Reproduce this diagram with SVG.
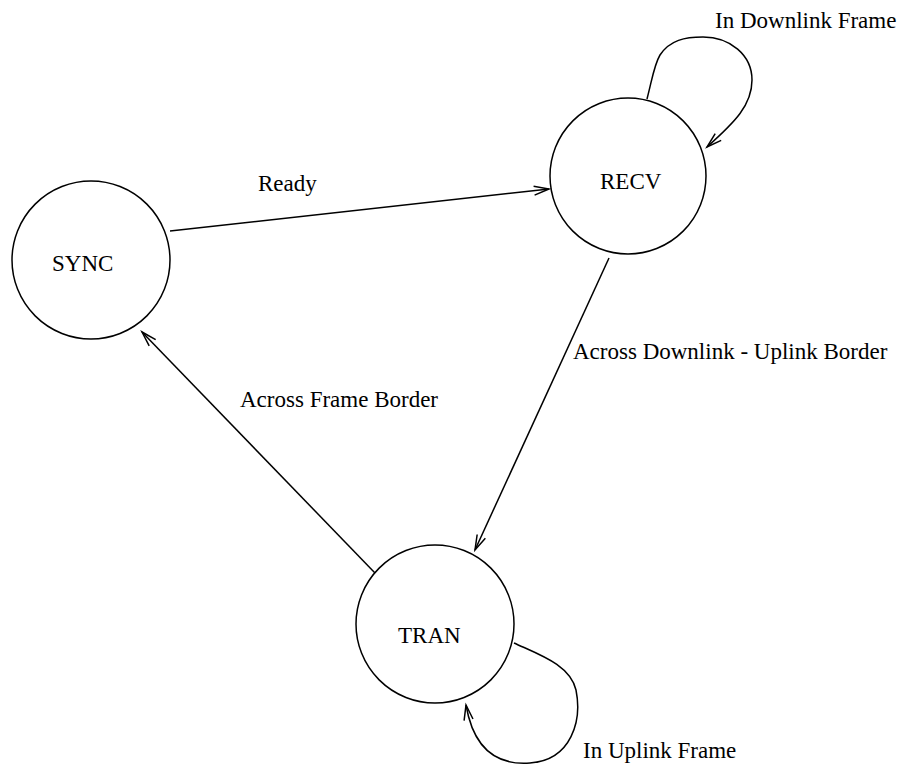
<svg xmlns="http://www.w3.org/2000/svg" width="905" height="771" viewBox="0 0 905 771">
<style>
.n{fill:none;stroke:#000;stroke-width:1.5}
.c{fill:none;stroke:#000;stroke-width:1.5}
text{font-family:"Liberation Serif","Times New Roman",serif;font-size:23px;fill:#000}
</style>
<defs>
<marker id="a" markerUnits="userSpaceOnUse" markerWidth="20" markerHeight="12" viewBox="-16 -6 18 12" refX="0" refY="0" orient="auto">
<path d="M-15,-4.5 L0,0 L-15,4.5" fill="none" stroke="#000" stroke-width="1.5"/>
</marker>
</defs>
<rect width="905" height="771" fill="#fff"/>
<g id="SYNC"><circle class="n" cx="91" cy="260" r="79"/><text x="52" y="271">SYNC</text></g>
<g id="RECV"><circle class="n" cx="628" cy="176" r="78"/><text x="600" y="189">RECV</text></g>
<g id="TRAN"><circle class="n" cx="435" cy="624" r="79"/><text x="398" y="643">TRAN</text></g>
<g id="connectors">
<line class="c" x1="170" y1="231" x2="549" y2="189" marker-end="url(#a)"/>
<line class="c" x1="609" y1="258" x2="475" y2="550" marker-end="url(#a)"/>
<line class="c" x1="375" y1="573" x2="142" y2="332" marker-end="url(#a)"/>
<path class="c" d="M647,99 C652,80 654,65 660,55 C670,40 685,37 703,37 C730,37 752,55 752,80 C752,105 735,122 707,147" marker-end="url(#a)"/>
<path class="c" d="M514,643 C540,655 570,665 576,690 C582,720 572,760 530,763 C490,766 472,740 466,705" marker-end="url(#a)"/>
</g>
<g id="labels">
<text x="258" y="191">Ready</text>
<text x="715" y="28">In Downlink Frame</text>
<text x="573" y="359">Across Downlink - Uplink Border</text>
<text x="240" y="407">Across Frame Border</text>
<text x="583" y="758">In Uplink Frame</text>
</g>
</svg>
